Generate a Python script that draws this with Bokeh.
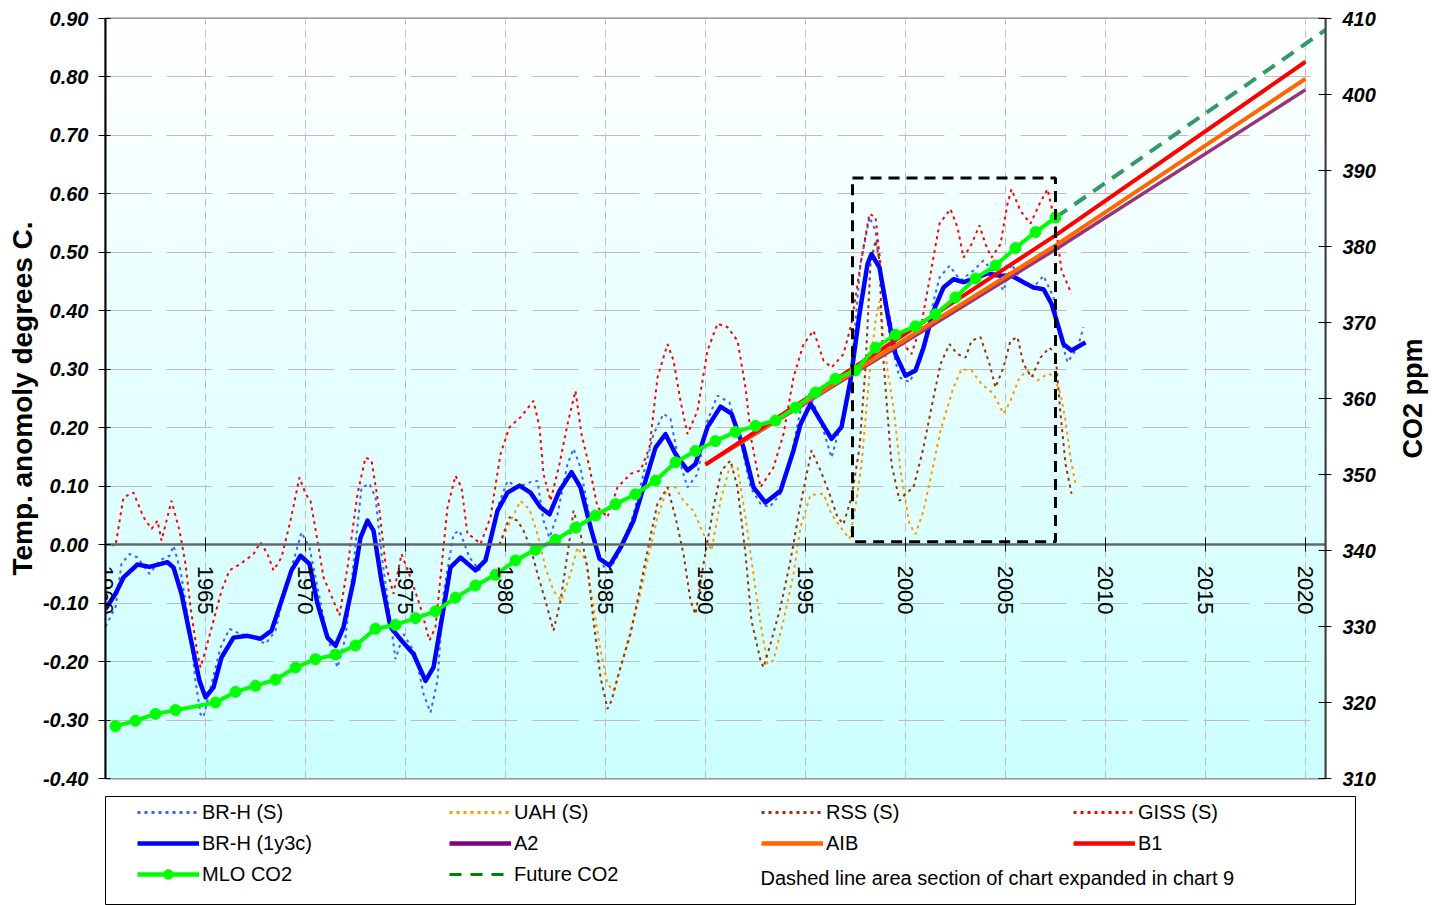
import math
import numpy as np
from bokeh.plotting import figure
from bokeh.layouts import column, row
from bokeh.models import (Range1d, LinearAxis, SingleIntervalTicker, NumeralTickFormatter,
                          Legend, LegendItem, Label)
from bokeh.embed import file_html
from bokeh.resources import INLINE

FONT = "Liberation Sans"

# ---------------- axis limits / ticks ----------------
X_MIN, X_MAX = 1960, 2021
Y_MIN, Y_MAX = -0.4, 0.9
CO2_MIN, CO2_MAX = 310, 410

# ---------------- data ----------------
# BR-H (1y3c) smoothed temperature anomaly
brh_c_year = [1960.0, 1960.5, 1960.9, 1961.6, 1962.2, 1963.1, 1963.4, 1963.8, 1964.25, 1964.7,
              1965.0, 1965.4, 1965.8, 1966.4, 1967.1, 1967.75, 1968.3, 1968.8, 1969.3, 1969.75,
              1970.2, 1970.6, 1971.1, 1971.5, 1971.9, 1972.4, 1972.75, 1973.1, 1973.4, 1973.8,
              1974.25, 1974.8, 1975.4, 1976.0, 1976.4, 1976.75, 1977.25, 1977.75, 1978.5, 1979.0,
              1979.6, 1980.1, 1980.7, 1981.25, 1981.75, 1982.2, 1982.7, 1983.3, 1983.75, 1984.25,
              1984.7, 1985.2, 1985.8, 1986.4, 1986.9, 1987.5, 1988.0, 1988.5, 1989.1, 1989.5,
              1990.1, 1990.75, 1991.3, 1991.9, 1992.4, 1993.0, 1993.75, 1994.4, 1994.75, 1995.25,
              1995.75, 1996.3, 1996.8, 1997.25, 1997.7, 1998.1, 1998.3, 1998.7, 1999.1, 1999.5,
              2000.0, 2000.5, 2000.9, 2001.4, 2001.9, 2002.4, 2002.9, 2003.6, 2004.1, 2004.75,
              2005.3, 2005.9, 2006.4, 2006.9, 2007.3, 2007.6, 2007.9, 2008.3, 2009.0]
brh_c_temp = [-0.110, -0.084, -0.056, -0.034, -0.038, -0.030, -0.039, -0.084, -0.159, -0.233,
              -0.261, -0.244, -0.193, -0.159, -0.156, -0.161, -0.147, -0.096, -0.044, -0.019,
              -0.033, -0.101, -0.159, -0.173, -0.141, -0.062, 0.012, 0.041, 0.024, -0.062,
              -0.141, -0.164, -0.187, -0.233, -0.210, -0.140, -0.039, -0.022, -0.044, -0.027,
              0.058, 0.089, 0.101, 0.089, 0.064, 0.052, 0.092, 0.124, 0.098, 0.030,
              -0.024, -0.036, -0.002, 0.041, 0.098, 0.166, 0.189, 0.155, 0.127, 0.138,
              0.201, 0.236, 0.224, 0.166, 0.098, 0.072, 0.092, 0.161, 0.206, 0.241,
              0.212, 0.181, 0.201, 0.281, 0.395, 0.480, 0.497, 0.474, 0.395, 0.326,
              0.289, 0.298, 0.337, 0.400, 0.440, 0.454, 0.449, 0.457, 0.464, 0.460,
              0.460, 0.449, 0.440, 0.437, 0.412, 0.378, 0.343, 0.332, 0.346]

# BR-H (S)
brh_s_year = [1960.0, 1960.5, 1960.8, 1961.2, 1961.6, 1962.2, 1962.7, 1963.2, 1963.4, 1963.75,
              1964.2, 1964.5, 1964.75, 1964.9, 1965.3, 1965.75, 1966.2, 1966.75, 1967.3, 1968.0,
              1968.5, 1969.0, 1969.5, 1969.8, 1970.2, 1970.6, 1971.1, 1971.6, 1972.0, 1972.4,
              1972.8, 1973.2, 1973.5, 1973.8, 1974.25, 1974.5, 1974.9, 1975.5, 1975.9, 1976.25,
              1976.6, 1976.9, 1977.4, 1977.7, 1978.2, 1978.7, 1979.1, 1979.6, 1980.1, 1980.6,
              1981.25, 1981.6, 1981.9, 1982.2, 1982.6, 1983.1, 1983.4, 1983.75, 1984.2, 1984.6,
              1985.1, 1985.75, 1986.4, 1986.9, 1987.4, 1987.9, 1988.25, 1988.6, 1989.1, 1989.6,
              1990.1, 1990.6, 1991.2, 1991.75, 1992.25, 1992.75, 1993.2, 1993.75, 1994.3, 1994.75,
              1995.2, 1995.75, 1996.3, 1996.9, 1997.3, 1997.75, 1998.2, 1998.5, 1998.8, 1999.25,
              1999.7, 2000.2, 2000.75, 2001.25, 2001.7, 2002.2, 2002.75, 2003.4, 2003.9, 2004.4,
              2004.9, 2005.3, 2005.9, 2006.4, 2006.9, 2007.4, 2007.75, 2008.1, 2008.6, 2008.9]
brh_s_temp = [-0.140, -0.107, -0.033, -0.016, -0.022, -0.050, -0.027, -0.019, -0.002, -0.044,
              -0.141, -0.233, -0.290, -0.295, -0.238, -0.176, -0.144, -0.153, -0.156, -0.170,
              -0.147, -0.073, -0.016, 0.021, -0.005, -0.073, -0.159, -0.210, -0.159, -0.033,
              0.098, 0.104, 0.081, -0.016, -0.130, -0.196, -0.153, -0.187, -0.255, -0.287,
              -0.233, -0.084, 0.018, 0.024, -0.022, -0.044, -0.010, 0.064, 0.109, 0.098,
              0.107, 0.109, 0.041, 0.012, 0.052, 0.138, 0.164, 0.132, 0.047, -0.016,
              -0.050, -0.010, 0.052, 0.121, 0.189, 0.224, 0.215, 0.155, 0.098, 0.121,
              0.212, 0.255, 0.243, 0.178, 0.098, 0.070, 0.064, 0.087, 0.155, 0.229,
              0.258, 0.212, 0.149, 0.224, 0.303, 0.480, 0.560, 0.537, 0.446, 0.349,
              0.286, 0.278, 0.315, 0.395, 0.457, 0.477, 0.452, 0.469, 0.486, 0.466,
              0.434, 0.480, 0.446, 0.440, 0.460, 0.423, 0.355, 0.312, 0.337, 0.372]

# GISS (S)
giss_year = [1960.3, 1960.5, 1960.9, 1961.4, 1961.9, 1962.3, 1962.6, 1962.8, 1963.3, 1963.7,
             1964.0, 1964.25, 1964.6, 1964.75, 1965.0, 1965.4, 1965.8, 1966.2, 1966.75, 1967.4,
             1967.75, 1968.1, 1968.4, 1968.8, 1969.25, 1969.7, 1970.0, 1970.25, 1970.6, 1970.9,
             1971.25, 1971.7, 1972.1, 1972.6, 1973.0, 1973.3, 1973.7, 1974.0, 1974.4, 1974.8,
             1975.25, 1975.75, 1976.2, 1976.5, 1977.1, 1977.5, 1977.8, 1978.1, 1978.4, 1978.75,
             1979.25, 1979.75, 1980.2, 1980.75, 1981.4, 1981.7, 1981.9, 1982.25, 1982.7, 1983.1,
             1983.5, 1983.8, 1984.2, 1984.6, 1985.1, 1985.6, 1986.25, 1986.75, 1987.2, 1987.6,
             1988.1, 1988.4, 1988.75, 1989.1, 1989.6, 1990.1, 1990.6, 1991.1, 1991.6, 1992.0,
             1992.3, 1992.75, 1993.4, 1993.9, 1994.4, 1994.9, 1995.4, 1995.9, 1996.3, 1996.9,
             1997.3, 1997.75, 1998.2, 1998.5, 1998.8, 1999.1, 1999.5, 1999.9, 2000.3, 2000.8,
             2001.25, 2001.7, 2002.25, 2002.6, 2002.9, 2003.3, 2003.7, 2004.0, 2004.3, 2004.75,
             2005.1, 2005.3, 2005.75, 2006.25, 2006.7, 2007.1, 2007.5, 2007.8, 2008.3]
giss_temp = [0.000, -0.002, 0.081, 0.089, 0.047, 0.027, 0.041, 0.007, 0.075, 0.024,
             -0.033, -0.107, -0.187, -0.210, -0.181, -0.130, -0.079, -0.044, -0.033, -0.016,
             0.004, -0.016, -0.044, -0.022, 0.041, 0.115, 0.087, 0.075, 0.007, -0.056,
             -0.084, -0.121, -0.039, 0.087, 0.149, 0.144, 0.058, -0.033, -0.084, -0.016,
             -0.056, -0.107, -0.164, -0.141, 0.064, 0.118, 0.098, 0.018, 0.012, 0.001,
             0.047, 0.155, 0.201, 0.218, 0.246, 0.201, 0.121, 0.075, 0.138, 0.206,
             0.263, 0.189, 0.132, 0.064, 0.047, 0.098, 0.121, 0.127, 0.166, 0.286,
             0.343, 0.315, 0.246, 0.189, 0.229, 0.332, 0.378, 0.372, 0.349, 0.269,
             0.178, 0.098, 0.132, 0.189, 0.286, 0.343, 0.366, 0.315, 0.303, 0.326,
             0.378, 0.480, 0.566, 0.560, 0.463, 0.406, 0.343, 0.343, 0.326, 0.378,
             0.463, 0.549, 0.574, 0.543, 0.491, 0.514, 0.546, 0.514, 0.491, 0.514,
             0.583, 0.608, 0.571, 0.549, 0.583, 0.608, 0.549, 0.469, 0.429]

# UAH (S)
uah_year = [1979.7, 1980.25, 1980.75, 1981.2, 1981.6, 1982.0, 1982.4, 1982.8, 1983.25, 1983.6,
            1984.0, 1984.3, 1984.75, 1985.1, 1985.4, 1985.8, 1986.25, 1986.7, 1987.1, 1987.6,
            1988.1, 1988.5, 1988.9, 1989.4, 1989.9, 1990.3, 1990.75, 1991.2, 1991.6, 1992.0,
            1992.3, 1992.7, 1993.1, 1993.4, 1993.9, 1994.4, 1994.75, 1995.25, 1995.9, 1996.3,
            1996.75, 1997.2, 1997.5, 1997.8, 1998.25, 1998.5, 1998.7, 1999.1, 1999.4, 1999.75,
            2000.2, 2000.5, 2000.9, 2001.3, 2001.75, 2002.1, 2002.4, 2002.8, 2003.3, 2003.8,
            2004.4, 2004.9, 2005.25, 2005.7, 2006.1, 2006.6, 2007.1, 2007.4, 2007.75, 2008.0,
            2008.25, 2008.5]
uah_temp = [0.000, 0.040, 0.075, 0.060, 0.018, -0.039, -0.079, -0.096, -0.050, -0.005,
            -0.027, -0.084, -0.181, -0.238, -0.250, -0.204, -0.147, -0.090, -0.027, 0.047,
            0.098, 0.098, 0.075, 0.058, 0.018, -0.010, 0.075, 0.132, 0.132, 0.047,
            -0.027, -0.124, -0.204, -0.198, -0.130, -0.050, 0.030, 0.085, 0.087, 0.052,
            0.030, 0.010, 0.064, 0.138, 0.309, 0.383, 0.417, 0.298, 0.235, 0.127,
            0.035, 0.018, 0.058, 0.121, 0.195, 0.235, 0.269, 0.300, 0.298, 0.275,
            0.258, 0.224, 0.246, 0.286, 0.298, 0.281, 0.292, 0.290, 0.258, 0.212,
            0.149, 0.104]

# RSS (S)
rss_year = [1979.7, 1980.2, 1980.6, 1980.9, 1981.25, 1981.6, 1982.0, 1982.4, 1982.75, 1983.2,
            1983.4, 1983.75, 1984.1, 1984.4, 1984.75, 1985.1, 1985.3, 1985.75, 1986.25, 1986.7,
            1987.2, 1987.6, 1988.1, 1988.5, 1988.9, 1989.25, 1989.5, 1989.9, 1990.4, 1990.8,
            1991.25, 1991.6, 1992.0, 1992.3, 1992.75, 1992.9, 1993.25, 1993.75, 1994.25, 1994.7,
            1995.3, 1995.75, 1996.2, 1996.6, 1996.9, 1997.3, 1997.7, 1998.0, 1998.25, 1998.5,
            1998.7, 1998.85, 1999.1, 1999.3, 1999.7, 2000.0, 2000.4, 2000.9, 2001.3, 2001.75,
            2002.2, 2002.6, 2003.0, 2003.3, 2003.75, 2004.2, 2004.5, 2004.9, 2005.25, 2005.6,
            2005.9, 2006.3, 2006.75, 2007.2, 2007.5, 2007.75, 2008.0, 2008.3]
rss_temp = [0.000, 0.047, 0.041, 0.024, -0.005, -0.050, -0.096, -0.147, -0.096, 0.007,
            0.058, 0.018, -0.039, -0.130, -0.227, -0.281, -0.267, -0.210, -0.153, -0.079,
            0.007, 0.070, 0.098, 0.047, -0.016, -0.096, -0.119, -0.033, 0.064, 0.127,
            0.144, 0.098, -0.016, -0.130, -0.198, -0.210, -0.170, -0.107, -0.027, 0.060,
            0.161, 0.127, 0.087, 0.047, 0.035, 0.081, 0.166, 0.303, 0.480, 0.520,
            0.486, 0.337, 0.224, 0.138, 0.075, 0.087, 0.098, 0.166, 0.235, 0.309,
            0.343, 0.326, 0.320, 0.349, 0.355, 0.309, 0.269, 0.303, 0.349, 0.355,
            0.309, 0.286, 0.320, 0.337, 0.326, 0.224, 0.138, 0.087]

# IPCC scenario lines (temperature)
scen_year = [1990.0, 2007.5, 2020.0]
a2_temp = [0.137, 0.505, 0.778]
aib_temp = [0.137, 0.512, 0.797]
b1_temp = [0.137, 0.529, 0.826]

# Mauna Loa CO2 (ppm), annual means (1964 missing)
mlo_year = [1960.5, 1961.5, 1962.5, 1963.5, 1965.5, 1966.5, 1967.5, 1968.5, 1969.5, 1970.5,
            1971.5, 1972.5, 1973.5, 1974.5, 1975.5, 1976.5, 1977.5, 1978.5, 1979.5, 1980.5,
            1981.5, 1982.5, 1983.5, 1984.5, 1985.5, 1986.5, 1987.5, 1988.5, 1989.5, 1990.5,
            1991.5, 1992.5, 1993.5, 1994.5, 1995.5, 1996.5, 1997.5, 1998.5, 1999.5, 2000.5,
            2001.5, 2002.5, 2003.5, 2004.5, 2005.5, 2006.5, 2007.5]
mlo_co2 = [316.9, 317.6, 318.5, 319.0, 320.0, 321.4, 322.2, 323.0, 324.6, 325.7,
           326.3, 327.5, 329.7, 330.2, 331.1, 332.0, 333.8, 335.4, 336.8, 338.7,
           340.1, 341.4, 343.0, 344.6, 346.1, 347.4, 349.2, 351.6, 353.1, 354.4,
           355.6, 356.4, 357.1, 358.8, 360.8, 362.6, 363.7, 366.7, 368.4, 369.5,
           371.1, 373.3, 375.8, 377.5, 379.8, 381.9, 383.8]

# Future CO2 projection
future_year = [2007.5, 2021.0]
future_co2 = [383.8, 408.5]

# Dashed box (section expanded in chart 9)
box_left, box_right = [1997.35], [2007.5]
box_bottom, box_top = [0.005], [0.627]

# colours
C_BRH_S = "#3366ff"
C_UAH = "#ff9900"
C_RSS = "#993300"
C_GISS = "#ff0000"
C_BRH_C = "#0000ff"
C_A2 = "#993377"
C_AIB = "#ff6600"
C_B1 = "#ff0000"
C_MLO = "#00ff00"
C_FUT = "#339966"
DOT = "3 4"

# ---------------- main figure ----------------
p = figure(frame_width=1220, frame_height=760,
           min_border_left=105, min_border_right=65, min_border_top=18, min_border_bottom=17,
           x_range=Range1d(X_MIN, X_MAX), y_range=Range1d(Y_MIN, Y_MAX),
           output_backend="svg", toolbar_location=None)
p.extra_y_ranges = {"co2": Range1d(CO2_MIN, CO2_MAX)}
p.outline_line_color = "#808080"
p.outline_line_width = 2
p.background_fill_color = "white"
p.border_fill_color = "white"

# gradient background
n = 256
t = np.linspace(0.0, 1.0, n)
img = np.empty((n, 1), dtype=np.uint32)
view = img.view(dtype=np.uint8).reshape((n, 1, 4))
view[:, 0, 0] = (204 + 51 * t).astype(np.uint8)
view[:, 0, 1] = 255
view[:, 0, 2] = 255
view[:, 0, 3] = 255
p.image_rgba(image=[img], x=X_MIN, y=Y_MIN, dw=X_MAX - X_MIN, dh=Y_MAX - Y_MIN, level="image")

# x axis at y = 0
xax = p.xaxis[0]
xax.fixed_location = 0
xax.ticker = SingleIntervalTicker(interval=5)
xax.major_label_orientation = "vertical"
xax.major_tick_in = 7
xax.major_tick_out = 7
xax.minor_tick_in = 0
xax.minor_tick_out = 0
xax.axis_line_color = "#5f6b6b"
xax.axis_line_width = 2.5
xax.major_tick_line_color = "black"
xax.major_label_standoff = 14
xax.major_label_text_font = FONT
xax.major_label_text_font_size = "22px"
xax.major_label_text_color = "black"

# left axis
yax = p.yaxis[0]
yax.ticker = SingleIntervalTicker(interval=0.1)
yax.formatter = NumeralTickFormatter(format="0.00")
yax.major_tick_in = 5
yax.major_tick_out = 7
yax.minor_tick_in = 0
yax.minor_tick_out = 0
yax.axis_line_color = "black"
yax.axis_line_width = 2
yax.major_tick_line_color = "black"
yax.major_label_standoff = 10
yax.major_label_text_font = FONT
yax.major_label_text_font_size = "20px"
yax.major_label_text_font_style = "bold italic"
yax.major_label_text_color = "black"
yax.axis_label = "Temp. anomoly degrees C."
yax.axis_label_text_font = FONT
yax.axis_label_text_font_size = "28px"
yax.axis_label_text_font_style = "bold"
yax.axis_label_text_color = "black"
yax.axis_label_standoff = 2

# right axis (its title is drawn in the narrow panel to the right)
rax = LinearAxis(y_range_name="co2", ticker=SingleIntervalTicker(interval=10))
rax.major_tick_in = 7
rax.major_tick_out = 6
rax.minor_tick_in = 0
rax.minor_tick_out = 0
rax.axis_line_color = "#404040"
rax.axis_line_width = 2
rax.major_tick_line_color = "black"
rax.major_label_standoff = 11
rax.major_label_text_font = FONT
rax.major_label_text_font_size = "20px"
rax.major_label_text_font_style = "bold italic"
rax.major_label_text_color = "black"
p.add_layout(rax, "right")

# grids
p.xgrid.grid_line_color = "#bdbdbd"
p.xgrid.grid_line_dash = "8 5"
p.xgrid.grid_line_width = 1
p.ygrid.grid_line_color = "#bdbdbd"
p.ygrid.grid_line_dash = "46 15"
p.ygrid.grid_line_width = 1

# series
p.line(brh_s_year, brh_s_temp, line_color=C_BRH_S, line_width=2, line_dash=DOT)
p.line(uah_year, uah_temp, line_color=C_UAH, line_width=2, line_dash=DOT)
p.line(rss_year, rss_temp, line_color=C_RSS, line_width=2, line_dash=DOT)
p.line(giss_year, giss_temp, line_color=C_GISS, line_width=2, line_dash=DOT)
p.line(brh_c_year, brh_c_temp, line_color=C_BRH_C, line_width=4.5, line_join="round")
p.line(scen_year, a2_temp, line_color=C_A2, line_width=3.5)
p.line(scen_year, aib_temp, line_color=C_AIB, line_width=4)
p.line(scen_year, b1_temp, line_color=C_B1, line_width=4)
p.line(future_year, future_co2, y_range_name="co2", line_color=C_FUT, line_width=4, line_dash="14 9")
p.line(mlo_year, mlo_co2, y_range_name="co2", line_color=C_MLO, line_width=4)
p.scatter(mlo_year, mlo_co2, y_range_name="co2", size=11, marker="circle",
          fill_color=C_MLO, line_color=C_MLO)
p.quad(left=box_left, right=box_right, bottom=box_bottom, top=box_top, fill_color=None,
       line_color="black", line_width=3, line_dash="11 7")

# ---------------- right-axis title panel ----------------
pt = figure(frame_width=44, frame_height=760, min_border_left=0, min_border_right=0,
            min_border_top=18, min_border_bottom=17,
            x_range=Range1d(0, 1), y_range=Range1d(0, 1),
            x_axis_location=None, y_axis_location=None,
            output_backend="svg", toolbar_location=None)
pt.grid.visible = False
pt.outline_line_color = None
pt.background_fill_color = "white"
pt.border_fill_color = "white"
pt.add_layout(Label(x=0.5, y=0.5, text="CO2 ppm", angle=math.pi / 2,
                    text_align="center", text_baseline="middle",
                    text_font=FONT, text_font_size="27px", text_font_style="bold",
                    text_color="black"))

# ---------------- legend panel ----------------
p2 = figure(frame_width=1251, frame_height=109, min_border_left=105, min_border_right=0,
            min_border_top=1, min_border_bottom=0,
            x_range=Range1d(0, 1), y_range=Range1d(0, 1),
            x_axis_location=None, y_axis_location=None,
            output_backend="svg", toolbar_location=None)
p2.grid.visible = False
p2.outline_line_color = "black"
p2.outline_line_width = 1
p2.background_fill_color = "white"
p2.border_fill_color = "white"

NA = np.array([np.nan])   # legend swatch proxies: no drawn marks

def sw(**kw):
    return p2.line(x=NA, y=NA, **kw)

l_brh_s = sw(line_color=C_BRH_S, line_width=3, line_dash=DOT)
l_uah = sw(line_color=C_UAH, line_width=3, line_dash=DOT)
l_rss = sw(line_color=C_RSS, line_width=3, line_dash=DOT)
l_giss = sw(line_color=C_GISS, line_width=3, line_dash=DOT)
l_brh_c = sw(line_color=C_BRH_C, line_width=4.5)
l_a2 = sw(line_color="#800080", line_width=4.5)
l_aib = sw(line_color=C_AIB, line_width=4.5)
l_b1 = sw(line_color=C_B1, line_width=4.5)
l_mlo = sw(line_color=C_MLO, line_width=4.5)
m_mlo = p2.scatter(x=NA, y=NA, marker="circle", size=10, fill_color=C_MLO, line_color=C_MLO)
l_fut = sw(line_color="#008000", line_width=3, line_dash="12 9")

items = [
    LegendItem(label="BR-H (S)", renderers=[l_brh_s]),
    LegendItem(label="UAH (S)", renderers=[l_uah]),
    LegendItem(label="RSS (S)", renderers=[l_rss]),
    LegendItem(label="GISS (S)", renderers=[l_giss]),
    LegendItem(label="BR-H (1y3c)", renderers=[l_brh_c]),
    LegendItem(label="A2", renderers=[l_a2]),
    LegendItem(label="AIB", renderers=[l_aib]),
    LegendItem(label="B1", renderers=[l_b1]),
    LegendItem(label="MLO CO2", renderers=[l_mlo, m_mlo]),
    LegendItem(label="Future CO2", renderers=[l_fut]),
]
leg = Legend(items=items, orientation="horizontal", ncols=4, location=(32, 19),
             glyph_width=62, glyph_height=24, label_height=24, label_width=240,
             label_standoff=3, spacing=7, padding=0, margin=0,
             border_line_alpha=0, background_fill_alpha=0,
             label_text_font=FONT, label_text_font_size="20px", label_text_color="black",
             click_policy="none")
p2.add_layout(leg, "center")
p2.add_layout(Label(x=655, y=28, x_units="screen", y_units="screen",
                    text="Dashed line area section of chart expanded in chart 9",
                    text_baseline="middle", text_font=FONT, text_font_size="20px",
                    text_color="black"))

layout = column(row(p, pt, spacing=0), p2, spacing=0)
open("out.html", "w").write(file_html(layout, INLINE))
